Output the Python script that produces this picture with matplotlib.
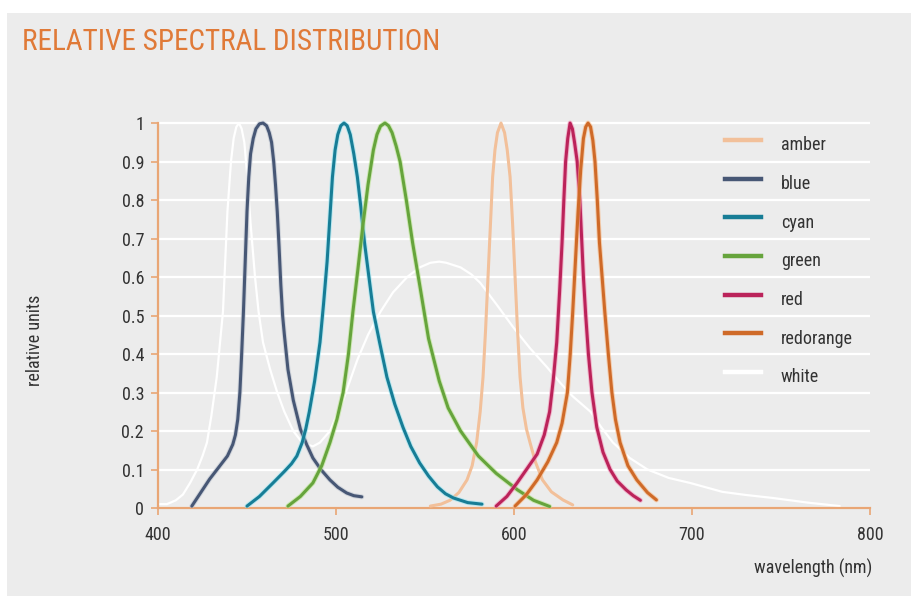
import matplotlib
matplotlib.use("Agg")
import matplotlib.pyplot as plt
import matplotlib.patheffects as pe
from matplotlib.patches import Rectangle

plt.rcParams["font.family"] = ["Roboto Condensed", "DejaVu Sans"]

# ---- data (wavelength nm, relative units) ----
white_x = [401, 405, 410, 414, 418, 422, 425, 427.5, 430, 433, 436.5, 439,
           441, 442.5, 444, 445.5, 447, 448.5, 450, 452, 454.5, 456.5, 459,
           463, 467, 471, 476, 481, 487, 491, 496.6, 504, 512, 518, 525, 532,
           540, 547, 553, 558, 562, 570, 576, 581, 590, 599.5, 609, 618.5,
           626, 633, 643, 649, 655.6, 665, 675, 687, 699, 717, 730, 745.5,
           765, 783]
white_y = [0.01, 0.01, 0.02, 0.035, 0.065, 0.1, 0.135, 0.17, 0.24, 0.34, 0.51,
           0.77, 0.9, 0.96, 0.99, 1.0, 0.985, 0.95, 0.87, 0.74, 0.6, 0.51,
           0.43, 0.36, 0.30, 0.25, 0.2, 0.17, 0.16, 0.17, 0.2, 0.28, 0.385,
           0.45, 0.51, 0.56, 0.6, 0.625, 0.637, 0.64, 0.637, 0.625, 0.607,
           0.585, 0.53, 0.47, 0.415, 0.366, 0.325, 0.29, 0.25, 0.21, 0.17,
           0.13, 0.1, 0.078, 0.065, 0.042, 0.034, 0.026, 0.014, 0.005]

blue_x = [419, 424, 429, 434, 439, 442, 443.5, 444.8, 446, 447, 448, 449, 450,
          451, 452, 453.5, 455, 457, 459, 461, 462.5, 463.8, 465, 466, 467,
          468, 469, 470, 471, 473, 476, 480, 483.5, 487, 491.5, 496.6, 501,
          506, 510, 514.5]
blue_y = [0.005, 0.04, 0.075, 0.105, 0.135, 0.165, 0.19, 0.23, 0.3, 0.4, 0.51,
          0.64, 0.77, 0.86, 0.92, 0.96, 0.985, 0.998, 1.0, 0.993, 0.975, 0.95,
          0.9, 0.84, 0.77, 0.68, 0.58, 0.5, 0.45, 0.36, 0.28, 0.205, 0.165,
          0.13, 0.1, 0.073, 0.054, 0.039, 0.032, 0.029]

cyan_x = [450, 457, 464.6, 471, 475, 478, 481, 483, 485, 488, 491, 493, 495,
          496.5, 498, 499.5, 501, 502.7, 504.5, 506.3, 508, 510, 512, 514,
          516, 518.5, 521, 524.5, 528.6, 533, 537.6, 542, 547, 552, 557,
          561.5, 566, 574, 582]
cyan_y = [0.005, 0.03, 0.065, 0.095, 0.115, 0.135, 0.17, 0.205, 0.25, 0.33,
          0.43, 0.53, 0.64, 0.75, 0.86, 0.93, 0.97, 0.993, 1.0, 0.993, 0.97,
          0.92, 0.86, 0.78, 0.69, 0.6, 0.51, 0.43, 0.34, 0.27, 0.21, 0.16,
          0.117, 0.083, 0.055, 0.037, 0.026, 0.014, 0.01]

green_x = [473, 480, 487, 492, 496.6, 500.5, 504, 507, 509.5, 512.3, 515, 518,
           521, 523, 525, 527.5, 529.5, 531.5, 533.8, 536, 539.5, 543, 547,
           552, 558, 563, 570, 580, 590, 602, 611, 620]
green_y = [0.005, 0.03, 0.065, 0.11, 0.17, 0.23, 0.3, 0.4, 0.51, 0.62, 0.73,
           0.84, 0.93, 0.97, 0.992, 1.0, 0.993, 0.975, 0.94, 0.9, 0.8, 0.69,
           0.58, 0.44, 0.33, 0.26, 0.2, 0.135, 0.09, 0.047, 0.02, 0.004]

amber_x = [553, 559, 564, 569, 573.6, 576.5, 579, 581, 582.6, 584, 585.4,
           586.8, 588, 589.3, 590.7, 592.7, 594.7, 596.2, 597.8, 599.2, 600.6,
           602, 603.4, 605, 607, 609, 612, 616, 621, 627.5, 633]
amber_y = [0.005, 0.01, 0.02, 0.04, 0.073, 0.11, 0.17, 0.25, 0.34, 0.46, 0.6,
           0.74, 0.86, 0.93, 0.975, 1.0, 0.975, 0.93, 0.86, 0.74, 0.6, 0.46,
           0.34, 0.26, 0.205, 0.17, 0.12, 0.073, 0.042, 0.021, 0.008]

red_x = [590, 596, 601.7, 607, 613, 617, 620, 622, 624, 625.6, 627, 628, 629,
         630.2, 631.5, 632.8, 634, 635.5, 637, 638, 639, 640.3, 641.8, 643.8,
         646.5, 650, 654, 658, 663, 667, 671]
red_y = [0.005, 0.03, 0.065, 0.1, 0.14, 0.19, 0.25, 0.33, 0.43, 0.56, 0.69,
         0.8, 0.9, 0.96, 1.0, 0.985, 0.95, 0.9, 0.8, 0.7, 0.6, 0.5, 0.4, 0.3,
         0.21, 0.145, 0.1, 0.07, 0.047, 0.032, 0.02]

redorange_x = [600.6, 607, 613, 619, 624, 627, 630, 631.6, 633, 634.5, 636,
               637.5, 639, 640.3, 641.6, 643, 644.3, 645.5, 646.8, 648, 649.5,
               651, 653, 655, 657, 659.6, 664, 669, 675, 680]
redorange_y = [0.005, 0.035, 0.073, 0.12, 0.17, 0.22, 0.3, 0.4, 0.51, 0.64,
               0.77, 0.88, 0.96, 0.99, 1.0, 0.99, 0.955, 0.9, 0.8, 0.69, 0.6,
               0.51, 0.4, 0.3, 0.23, 0.17, 0.11, 0.073, 0.04, 0.021]

y_ticks = [0, 0.1, 0.2, 0.3, 0.4, 0.5, 0.6, 0.7, 0.8, 0.9, 1]
y_tick_labels = ["0", "0.1", "0.2", "0.3", "0.4", "0.5", "0.6", "0.7", "0.8",
                 "0.9", "1"]
x_ticks = [400, 500, 600, 700, 800]

# name, x, y, line colour, glow colour
series = [
    ("amber", amber_x, amber_y, "#f2c09a", None),
    ("blue", blue_x, blue_y, "#475775", "#b8c0cc"),
    ("cyan", cyan_x, cyan_y, "#177d96", "#8fe4f2"),
    ("green", green_x, green_y, "#66a43c", "#b4e486"),
    ("red", red_x, red_y, "#bb235a", "#f48cb4"),
    ("redorange", redorange_x, redorange_y, "#cf6a28", "#f8b27a"),
    ("white", white_x, white_y, "#ffffff", None),
]

AXIS_ORANGE = "#e9a675"
TEXT = "#333333"

fig = plt.figure(figsize=(9.11, 5.96), dpi=100)
fig.patch.set_facecolor("white")
fig.patches.append(Rectangle((7 / 911, 0), 1, 1 - 13 / 596,
                             transform=fig.transFigure, facecolor="#ececec",
                             edgecolor="none", zorder=-10))

ax = fig.add_axes([158 / 911, 88 / 596, 712 / 911, 396.5 / 596])
ax.set_facecolor("none")
ax.set_xlim(400, 800)
ax.set_ylim(0, 1.03)

ax.set_axisbelow(True)
ax.yaxis.grid(True, color="white", linewidth=1.6)
ax.xaxis.grid(False)

handles = {}
for name, xs, ys, col, glow in series:
    lw = 1.6 if name == "white" else 2.2
    z = 2 if name == "white" else 3
    effects = [pe.Stroke(linewidth=lw + 1.4, foreground=glow, alpha=0.55),
               pe.Normal()] if glow else None
    ax.plot(xs, ys, color=col, linewidth=lw, zorder=z,
            solid_capstyle="round", solid_joinstyle="round",
            path_effects=effects)
    handles[name] = plt.Line2D([], [], color=col, linewidth=3.2)

for s in ("top", "right"):
    ax.spines[s].set_visible(False)
ax.spines["left"].set_bounds(0, 1)
ax.spines["bottom"].set_bounds(400, 800)
for s in ("left", "bottom"):
    ax.spines[s].set_color(AXIS_ORANGE)
    ax.spines[s].set_linewidth(1.6)

ax.set_yticks(y_ticks)
ax.set_yticklabels(y_tick_labels)
ax.set_xticks(x_ticks)
ax.tick_params(axis="both", colors=AXIS_ORANGE, length=5, width=1.2,
               labelcolor=TEXT, labelsize=13)
ax.tick_params(axis="y", pad=5)
ax.tick_params(axis="x", pad=8)

names = [s[0] for s in series]
ax.legend([handles[n] for n in names], names, frameon=False,
          loc="upper left", bbox_to_anchor=(718.5, 0.982),
          bbox_transform=ax.transData, fontsize=13, labelcolor=TEXT,
          handlelength=2.0, handleheight=2.13, labelspacing=0.51,
          handletextpad=1.1, borderpad=0.0, borderaxespad=0.0)

fig.text(22 / 911, 1 - 50 / 596, "RELATIVE SPECTRAL DISTRIBUTION",
         color="#e07a38", fontsize=21, va="baseline", ha="left")
fig.text(35 / 911, 1 - 340 / 596, "relative units", rotation=90,
         color=TEXT, fontsize=13, ha="center", va="center")
fig.text(872 / 911, 1 - 568 / 596, "wavelength (nm)", color=TEXT,
         fontsize=13, ha="right", va="center")

fig.savefig("out.png", dpi=100)
